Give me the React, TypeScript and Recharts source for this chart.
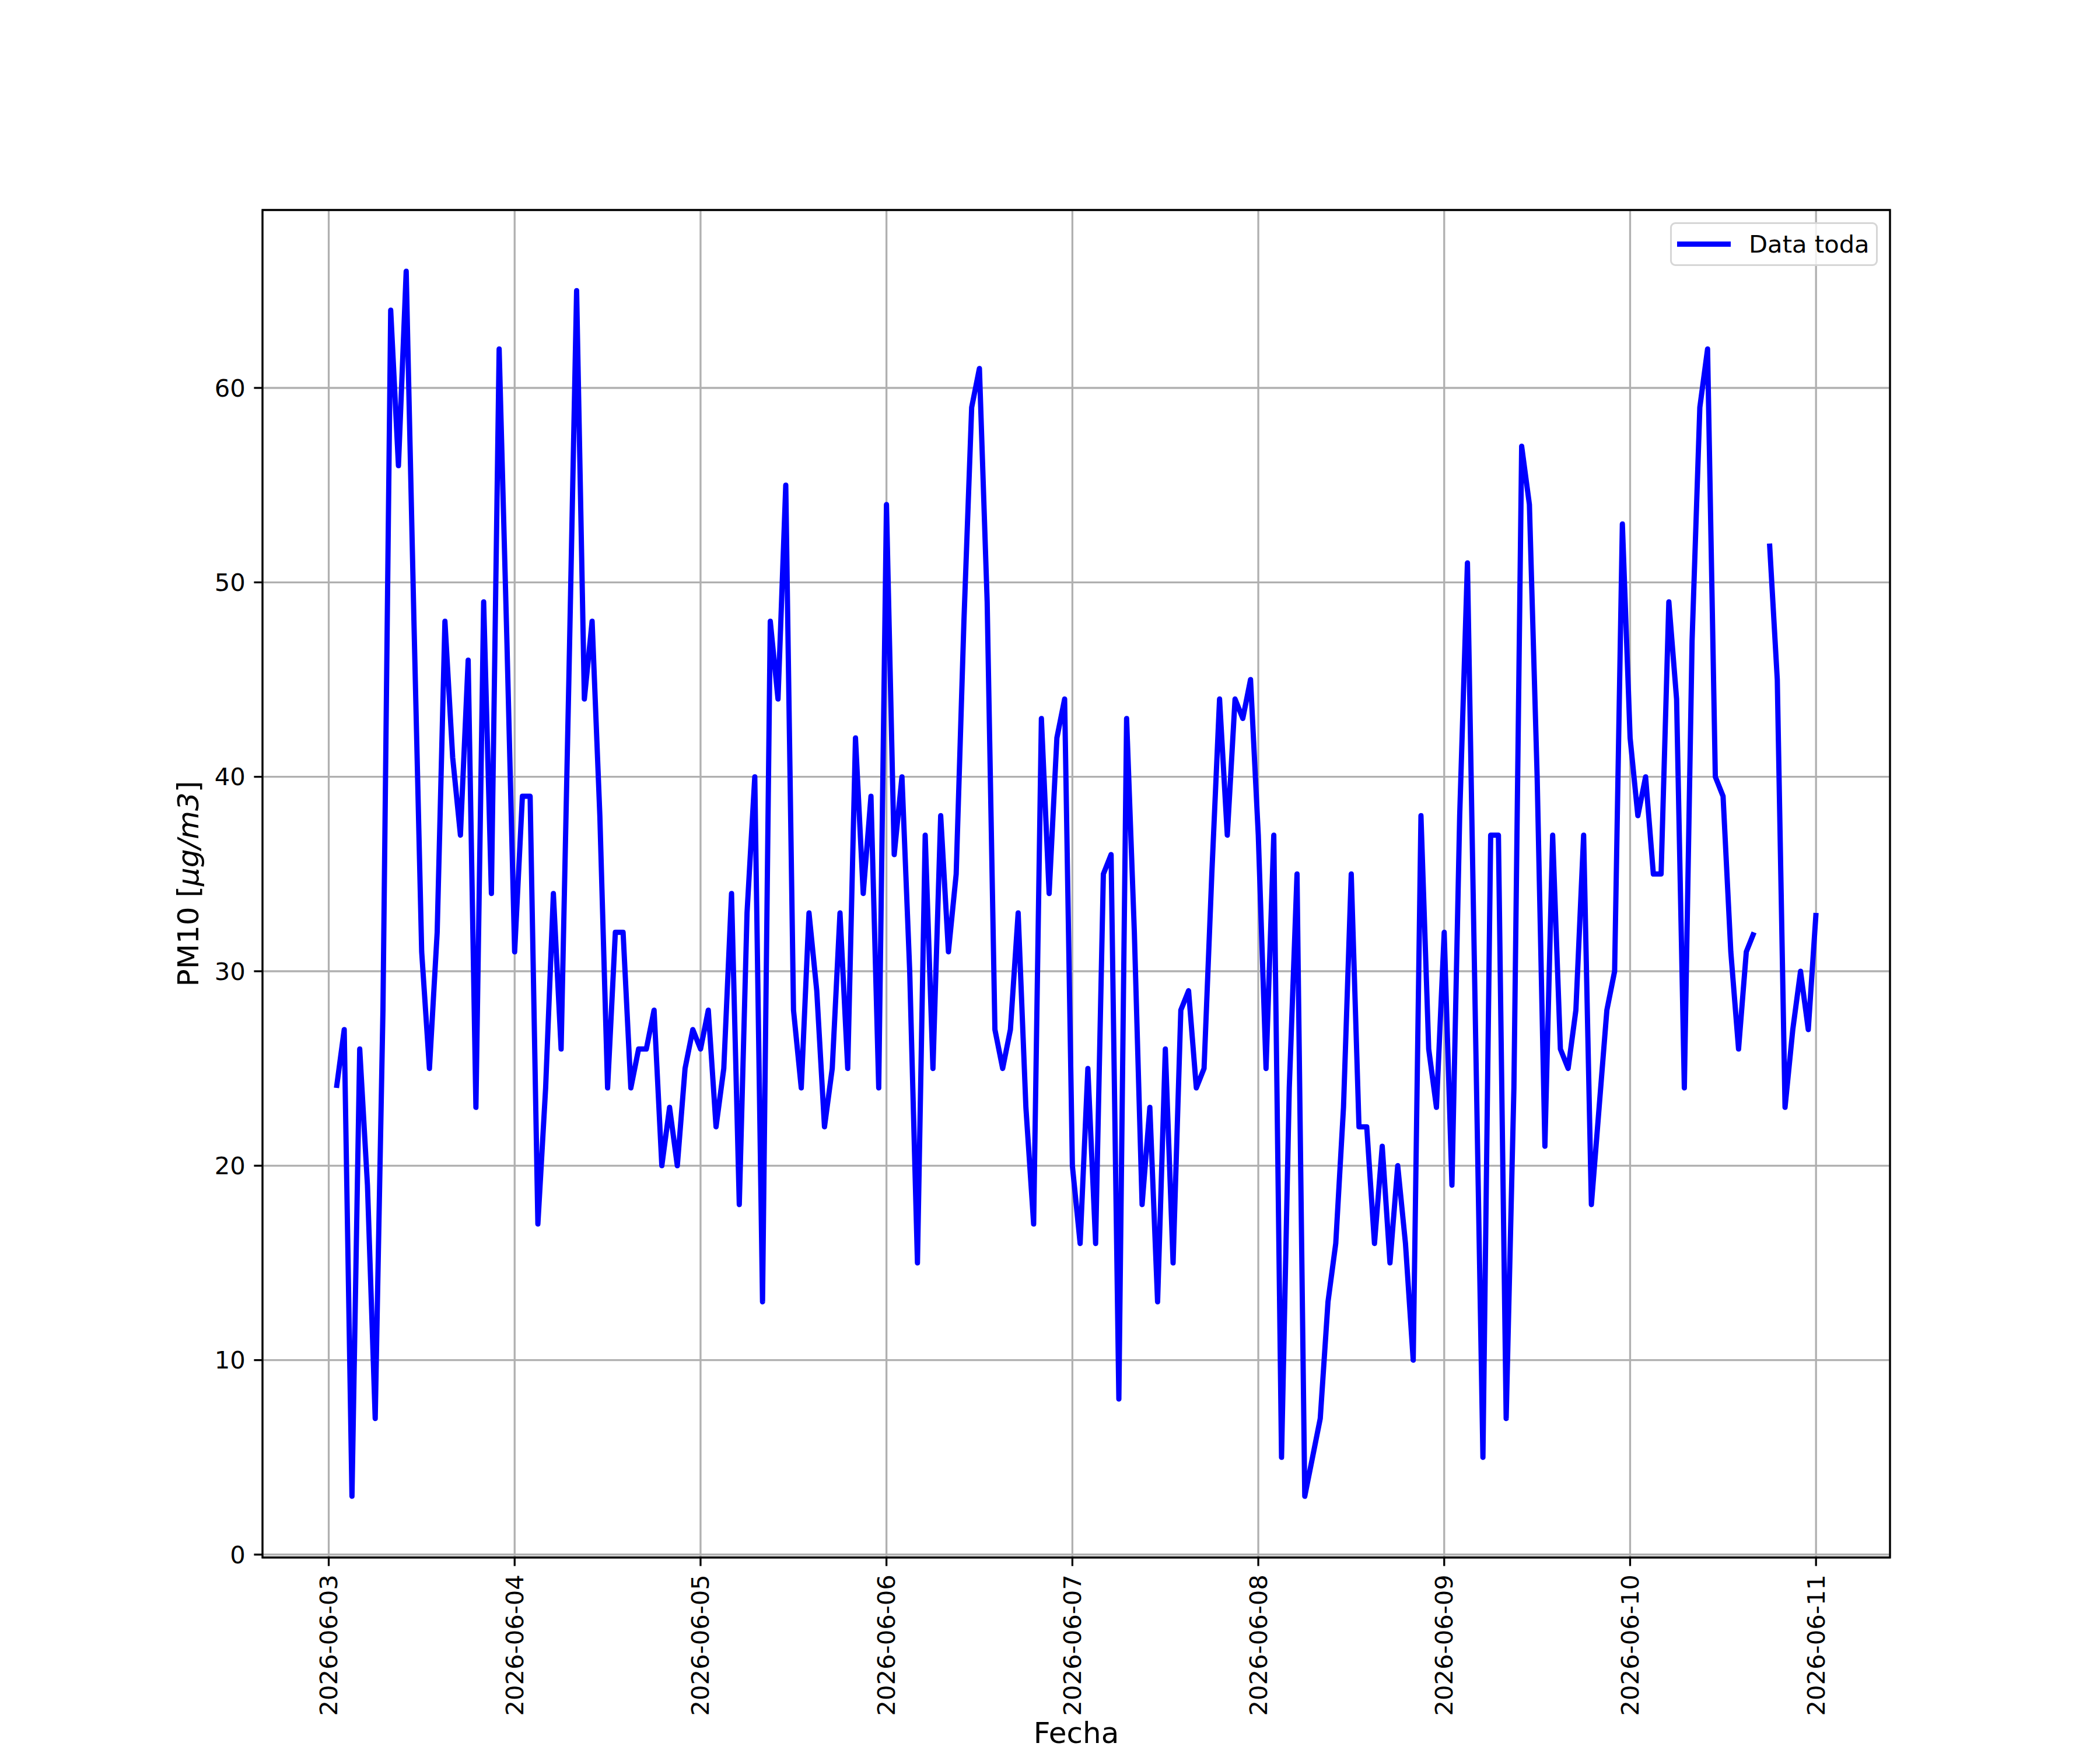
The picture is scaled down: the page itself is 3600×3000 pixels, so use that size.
import React from 'react';
import { LineChart, Line, XAxis, YAxis, CartesianGrid, ReferenceArea, Legend } from 'recharts';

// Tick labels
const dayLabels = ['2026-06-03', '2026-06-04', '2026-06-05', '2026-06-06', '2026-06-07', '2026-06-08', '2026-06-09', '2026-06-10', '2026-06-11'];
const dayTicks = [0, 24, 48, 72, 96, 120, 144, 168, 192]; // hours since 2026-06-03 00:00
const yTicks = [0, 10, 20, 30, 40, 50, 60];

// Hourly PM10 values (µg/m3), one array per day
const pm10Jun03 = [24, 27, 3, 26, 19, 7, 28, 64, 56, 66, 48, 31, 25, 32, 48, 41, 37, 46, 23, 49, 34, 62, 47]; // from 01:00
const pm10Jun04 = [31, 39, 39, 17, 24, 34, 26, 45, 65, 44, 48, 38, 24, 32, 32, 24, 26, 26, 28, 20, 23, 20, 25, 27];
const pm10Jun05 = [26, 28, 22, 25, 34, 18, 33, 40, 13, 48, 44, 55, 28, 24, 33, 29, 22, 25, 33, 25, 42, 34, 39, 24];
const pm10Jun06 = [54, 36, 40, 30, 15, 37, 25, 38, 31, 35, 48, 59, 61, 49, 27, 25, 27, 33, 23, 17, 43, 34, 42, 44];
const pm10Jun07 = [20, 16, 25, 16, 35, 36, 8, 43, 32, 18, 23, 13, 26, 15, 28, 29, 24, 25, 35, 44, 37, 44, 43, 45];
const pm10Jun08 = [37, 25, 37, 5, 24, 35, 3, 5, 7, 13, 16, 23, 35, 22, 22, 16, 21, 15, 20, 16, 10, 38, 26, 23];
const pm10Jun09 = [32, 19, 38, 51, 28, 5, 37, 37, 7, 24, 57, 54, 40, 21, 37, 26, 25, 28, 37, 18, 23, 28, 30, 53];
const pm10Jun10 = [42, 38, 40, 35, 35, 49, 44, 24, 47, 59, 62, 40, 39, 31, 26, 31, 32, null, 52, 45, 23, 27, 30, 27];
const pm10Jun11 = [33];

const days = [pm10Jun03, pm10Jun04, pm10Jun05, pm10Jun06, pm10Jun07, pm10Jun08, pm10Jun09, pm10Jun10, pm10Jun11];
const dayStartHour = [1, 24, 48, 72, 96, 120, 144, 168, 192];

const data: { t: number; pm10: number | null }[] = [];
days.forEach((vals, d) => {
  vals.forEach((v, i) => {
    data.push({ t: dayStartHour[d] + i, pm10: v });
  });
});

const FONT = 'DejaVu Sans';
const X_DOMAIN: [number, number] = [-8.55, 201.55];
const Y_DOMAIN: [number, number] = [-0.15, 69.15];

const XTick = (props: any) => {
  const { x, y, payload } = props;
  const idx = dayTicks.indexOf(payload.value);
  return (
    <text
      x={x}
      y={y}
      transform={`rotate(-90, ${x}, ${y})`}
      textAnchor="end"
      dominantBaseline="central"
      fontSize={41.7}
      fontFamily={FONT}
      fill="#000"
    >
      {idx >= 0 ? dayLabels[idx] : ''}
    </text>
  );
};

const YTick = (props: any) => {
  const { x, y, payload } = props;
  return (
    <text x={x} y={y} textAnchor="end" dominantBaseline="central" fontSize={41.7} fontFamily={FONT} fill="#000">
      {payload.value}
    </text>
  );
};

const YLabel = () => (
  <text
    x={340}
    y={1515}
    transform="rotate(-90, 340, 1515)"
    textAnchor="middle"
    fontSize={50}
    fontFamily={FONT}
    fill="#000"
  >
    <tspan>PM10 [</tspan>
    <tspan fontStyle="italic">μg/m3</tspan>
    <tspan>]</tspan>
  </text>
);

const XLabel = () => (
  <text x={1845} y={2988} textAnchor="middle" fontSize={50} fontFamily={FONT} fill="#000">
    Fecha
  </text>
);

const LegendBox = () => (
  <div
    style={{
      boxSizing: 'border-box',
      width: 356,
      height: 75,
      border: '3.3px solid #d6d6d6',
      borderRadius: 9,
      background: 'rgba(255,255,255,0.8)',
      display: 'flex',
      alignItems: 'center',
      fontFamily: FONT,
      fontSize: 41.7,
      color: '#000',
    }}
  >
    <div style={{ marginLeft: 9, width: 92, height: 9, background: '#0000ff' }} />
    <span style={{ marginLeft: 31, lineHeight: 1 }}>Data toda</span>
  </div>
);

export default function App() {
  return (
    <div style={{ position: 'absolute', left: 0, top: 0, width: 3600, height: 3000, background: '#fff' }}>
      <LineChart width={3600} height={3000} data={data} margin={{ top: 360, right: 360, bottom: 0, left: 0 }}>
        <CartesianGrid stroke="#b0b0b0" strokeWidth={3.3} />
        <XAxis
          dataKey="t"
          type="number"
          domain={X_DOMAIN}
          allowDataOverflow
          ticks={dayTicks}
          interval={0}
          tick={<XTick />}
          tickSize={14.6}
          tickMargin={14.6}
          tickLine={{ stroke: '#000', strokeWidth: 3.3 }}
          axisLine={false}
          height={330}
          label={<XLabel />}
        />
        <YAxis
          type="number"
          domain={Y_DOMAIN}
          allowDataOverflow
          ticks={yTicks}
          interval={0}
          tick={<YTick />}
          tickSize={14.6}
          tickMargin={14.6}
          tickLine={{ stroke: '#000', strokeWidth: 3.3 }}
          axisLine={false}
          width={450}
          label={<YLabel />}
        />
        <Line
          type="linear"
          dataKey="pm10"
          name="Data toda"
          stroke="#0000ff"
          strokeWidth={9}
          strokeLinejoin="round"
          dot={false}
          activeDot={false}
          connectNulls={false}
          isAnimationActive={false}
        />
        <ReferenceArea
          x1={X_DOMAIN[0]}
          x2={X_DOMAIN[1]}
          y1={Y_DOMAIN[0]}
          y2={Y_DOMAIN[1]}
          fill="none"
          fillOpacity={0}
          stroke="#000"
          strokeWidth={3.3}
          ifOverflow="visible"
        />
        <Legend
          layout="horizontal"
          verticalAlign="middle"
          align="center"
          content={() => <LegendBox />}
          wrapperStyle={{ position: 'absolute', left: 2863, top: 381, width: 356, height: 75 }}
        />
      </LineChart>
    </div>
  );
}
